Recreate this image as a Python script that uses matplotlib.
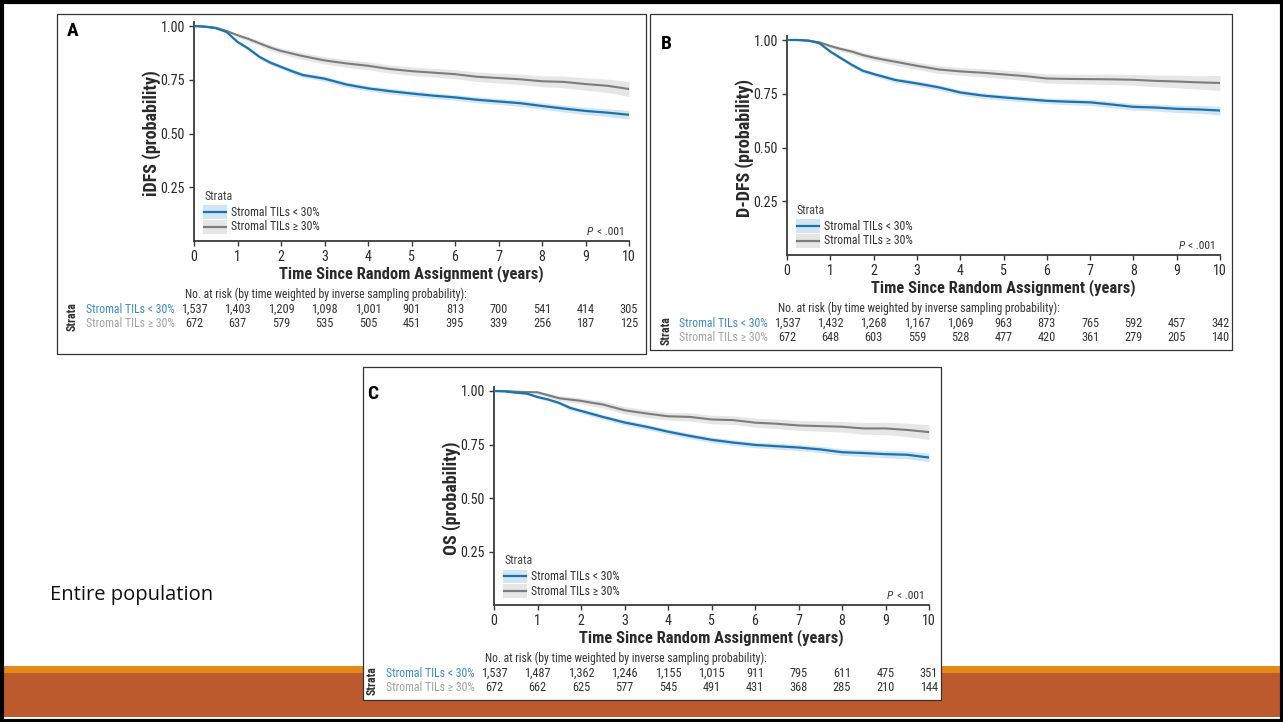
import os
import matplotlib
matplotlib.use('Agg')
import matplotlib.pyplot as plt
from matplotlib import font_manager as fm
from matplotlib.textpath import TextPath
from matplotlib.patches import Rectangle
from matplotlib.lines import Line2D
from matplotlib.transforms import blended_transform_factory

plt.rcParams['font.family'] = ['Liberation Sans', 'DejaVu Sans']

# ---------------- data ----------------
times = [0, 0.25, 0.5, 0.75, 1.0, 1.25, 1.5, 1.75, 2.0, 2.25, 2.5, 3.0, 3.5,
         4.0, 4.5, 5.0, 5.5, 6.0, 6.5, 7.0, 7.5, 8.0, 8.5, 9.0, 9.5, 10.0]

a_low = [1.0, 0.997, 0.99, 0.972, 0.926, 0.895, 0.857, 0.83, 0.81, 0.79, 0.772, 0.755, 0.728,
         0.71, 0.697, 0.686, 0.676, 0.668, 0.657, 0.649, 0.641, 0.628, 0.616, 0.605, 0.597, 0.587]
a_high = [1.0, 0.997, 0.992, 0.977, 0.957, 0.94, 0.92, 0.90, 0.884, 0.872, 0.86, 0.84, 0.826,
          0.815, 0.80, 0.79, 0.783, 0.776, 0.764, 0.758, 0.752, 0.743, 0.74, 0.73, 0.722, 0.707]
b_low = [1.0, 1.0, 0.997, 0.985, 0.946, 0.915, 0.884, 0.857, 0.842, 0.828, 0.814, 0.798, 0.78,
         0.756, 0.742, 0.733, 0.725, 0.717, 0.713, 0.71, 0.70, 0.689, 0.686, 0.68, 0.677, 0.672]
b_high = [1.0, 1.0, 0.997, 0.989, 0.972, 0.958, 0.946, 0.93, 0.918, 0.908, 0.899, 0.88, 0.863,
          0.854, 0.848, 0.84, 0.832, 0.821, 0.819, 0.818, 0.817, 0.815, 0.81, 0.807, 0.803, 0.80]
c_low = [1.0, 0.998, 0.992, 0.988, 0.972, 0.96, 0.944, 0.921, 0.907, 0.893, 0.879, 0.853, 0.833,
         0.81, 0.79, 0.772, 0.759, 0.748, 0.742, 0.736, 0.727, 0.714, 0.71, 0.705, 0.702, 0.689]
c_high = [1.0, 1.0, 0.997, 0.995, 0.994, 0.98, 0.966, 0.96, 0.954, 0.945, 0.937, 0.91, 0.895,
          0.882, 0.879, 0.867, 0.864, 0.852, 0.847, 0.839, 0.836, 0.833, 0.825, 0.825, 0.818, 0.808]

ci_low = [0.0, 0.001, 0.002, 0.004, 0.007, 0.008, 0.009, 0.01, 0.01, 0.011, 0.011, 0.012, 0.012,
          0.012, 0.013, 0.013, 0.013, 0.013, 0.014, 0.014, 0.015, 0.015, 0.016, 0.017, 0.018, 0.02]
ci_high = [0.0, 0.002, 0.003, 0.005, 0.008, 0.01, 0.012, 0.013, 0.014, 0.015, 0.016, 0.017, 0.018,
           0.018, 0.019, 0.02, 0.02, 0.021, 0.022, 0.023, 0.024, 0.025, 0.027, 0.029, 0.031, 0.035]

risk_times = list(range(11))
a_risk_low = [1537, 1403, 1209, 1098, 1001, 901, 813, 700, 541, 414, 305]
a_risk_high = [672, 637, 579, 535, 505, 451, 395, 339, 256, 187, 125]
b_risk_low = [1537, 1432, 1268, 1167, 1069, 963, 873, 765, 592, 457, 342]
b_risk_high = [672, 648, 603, 559, 528, 477, 420, 361, 279, 205, 140]
c_risk_low = [1537, 1487, 1362, 1246, 1155, 1015, 911, 795, 611, 475, 351]
c_risk_high = [672, 662, 625, 577, 545, 491, 431, 368, 285, 210, 144]

yticks = [0.25, 0.50, 0.75, 1.00]
ytick_labels = ['0.25', '0.50', '0.75', '1.00']
strata_labels = ['Stromal TILs < 30%', 'Stromal TILs \u2265 30%']
xlabel = 'Time Since Random Assignment (years)'
risk_title = 'No. at risk (by time weighted by inverse sampling probability):'

# ---------------- fonts: prefer a narrow face ----------------
fams = {}
for f in fm.fontManager.ttflist:
    fn = os.path.basename(f.fname).lower()
    if not ('narrow' in fn or 'condensed' in fn) or '[' in fn:
        continue
    if any(k in fn for k in ['light', 'thin', 'semi', 'medium', 'black', 'extra', 'heavy']):
        continue
    is_b = 'bold' in fn
    is_i = 'italic' in fn or 'oblique' in fn
    key = 'bold' if (is_b and not is_i) else ('ital' if (is_i and not is_b) else
                                              ('reg' if not (is_b or is_i) else None))
    if key is None:
        continue
    if 'roboto' in fn or 'liberation' in fn:
        pri = 0
    elif 'dejavu' in fn:
        pri = 2
    else:
        pri = 1
    d = fams.setdefault(f.name, {'pri': pri})
    d[key] = f.fname

best = None
for name, d in fams.items():
    if 'reg' in d and 'bold' in d and (best is None or d['pri'] < best['pri']):
        best = d


def fp(size=10, bold=False, italic=False):
    if best is not None:
        key = 'bold' if bold else ('ital' if (italic and 'ital' in best) else 'reg')
        return fm.FontProperties(fname=best[key], size=size)
    return fm.FontProperties(family='Liberation Sans', weight='bold' if bold else 'normal',
                             style='italic' if italic else 'normal', size=size)


def fit(text, target_px, bold=False, italic=False):
    w = TextPath((0, 0), text, prop=fp(10, bold, italic)).get_extents().width  # points at 10pt
    return 10 * target_px / (w * 100 / 72)


S_TICK = fit('1.00', 22.5)
S_XLAB = fit(xlabel, 264, True)
S_YLAB = fit('iDFS (probability)', 124, True)
S_RISKT = fit(risk_title, 282)
S_ROW = fit(strata_labels[0], 88)
S_NUM = fit('1,537', 25)
S_LEG = fit(strata_labels[0], 88)
S_STR = fit('Strata', 27)
S_P = fit('< .001', 25)

# ---------------- style ----------------
BLUE = '#1b72ad'
BLUE_BAND = '#d3e4f2'
BLUE_TXT = '#3f8cc4'
GRAY = '#7c7c7c'
GRAY_BAND = '#e6e6e6'
GRAY_TXT = '#a3a3a3'
DARK = '#2a2a2a'
W, H = 1283, 722

fig = plt.figure(figsize=(W / 100, H / 100), dpi=100)
fig.patch.set_facecolor('white')


def fx(px):
    return px / W


def fy(py):
    return 1 - py / H


fig.patches.append(Rectangle((0, fy(673)), 1, fy(666) - fy(673), transform=fig.transFigure,
                             facecolor='#e5891a', edgecolor='none', zorder=0))
fig.patches.append(Rectangle((0, fy(717)), 1, fy(673) - fy(717), transform=fig.transFigure,
                             facecolor='#bd5a2d', edgecolor='none', zorder=0))
fig.patches.append(Rectangle((fx(1.5), fy(720.5)), fx(1280), fy(1.5) - fy(720.5),
                             transform=fig.transFigure, facecolor='none',
                             edgecolor='black', linewidth=3, zorder=10))

boxes = [(57, 14, 646, 354), (650, 14, 1232, 350), (363, 367, 941, 700)]
for (x0, y0, x1, y1) in boxes:
    fig.patches.append(Rectangle((fx(x0), fy(y1)), fx(x1 - x0), fy(y0) - fy(y1),
                                 transform=fig.transFigure, facecolor='white',
                                 edgecolor='#333333', linewidth=0.9, zorder=1))

fig.text(fx(50), fy(595), 'Entire population', fontsize=14.5, family=['Open Sans', 'DejaVu Sans'],
         ha='left', va='center', color='#111111')

panels = [
    dict(letter='A', ylabel='iDFS (probability)', x0=194, x1=629, y0=241, y1=26,
         low=a_low, high=a_high, rl=a_risk_low, rh=a_risk_high, lx=73, ly=31),
    dict(letter='B', ylabel='D-DFS (probability)', x0=787, x1=1220, y0=255, y1=40,
         low=b_low, high=b_high, rl=b_risk_low, rh=b_risk_high, lx=666, ly=44),
    dict(letter='C', ylabel='OS (probability)', x0=494, x1=929, y0=605, y1=391,
         low=c_low, high=c_high, rl=c_risk_low, rh=c_risk_high, lx=373, ly=394),
]

YTOP = 1.02
for p in panels:
    unit = p['y0'] - p['y1']
    top_px = p['y0'] - YTOP * unit
    ax = fig.add_axes([fx(p['x0']), fy(p['y0']), fx(p['x1'] - p['x0']), fy(top_px) - fy(p['y0'])])
    ax.set_zorder(3)
    ax.patch.set_alpha(0)
    ax.set_xlim(0, 10)
    ax.set_ylim(0, YTOP)

    lo_l = [v - c for v, c in zip(p['low'], ci_low)]
    lo_u = [min(1.0, v + c) for v, c in zip(p['low'], ci_low)]
    hi_l = [v - c for v, c in zip(p['high'], ci_high)]
    hi_u = [min(1.0, v + c) for v, c in zip(p['high'], ci_high)]
    ax.fill_between(times, hi_l, hi_u, color=GRAY_BAND, linewidth=0, zorder=1)
    ax.fill_between(times, lo_l, lo_u, color=BLUE_BAND, linewidth=0, zorder=1)
    ax.plot(times, p['high'], color=GRAY, linewidth=1.5, zorder=3)
    ax.plot(times, p['low'], color=BLUE, linewidth=1.6, zorder=4)

    for s in ['top', 'right']:
        ax.spines[s].set_visible(False)
    for s in ['left', 'bottom']:
        ax.spines[s].set_color('#3a3a3a')
        ax.spines[s].set_linewidth(1.3)
    ax.set_xticks(risk_times)
    ax.set_yticks(yticks)
    ax.set_xticklabels([str(t) for t in risk_times], fontproperties=fp(S_TICK))
    ax.set_yticklabels(ytick_labels, fontproperties=fp(S_TICK))
    ax.tick_params(axis='both', length=3.5, width=1, color='#3a3a3a',
                   labelcolor=DARK, pad=3)

    bt = blended_transform_factory(ax.transData, ax.transAxes)
    ax.text(5, -0.148, xlabel, transform=bt, ha='center', va='center',
            fontproperties=fp(S_XLAB, True), color=DARK)
    ax.text(-0.098, 0.49, p['ylabel'], transform=ax.transAxes, rotation=90,
            ha='center', va='center', fontproperties=fp(S_YLAB, True), color=DARK)

    ax.text(0.023, 0.205, 'Strata', transform=ax.transAxes, fontproperties=fp(S_STR),
            color='#444444', ha='left', va='center')
    for yy, col, band, lab in [(0.132, BLUE, BLUE_BAND, strata_labels[0]),
                               (0.064, GRAY, GRAY_BAND, strata_labels[1])]:
        ax.add_patch(Rectangle((0.021, yy - 0.03), 0.055, 0.06, transform=ax.transAxes,
                               facecolor=band, edgecolor='none', zorder=2))
        ax.add_line(Line2D([0.023, 0.074], [yy, yy], transform=ax.transAxes, color=col,
                           linewidth=1.6, zorder=3))
        ax.text(0.085, yy, lab, transform=ax.transAxes, fontproperties=fp(S_LEG),
                color='#333333', ha='left', va='center')
    ax.text(0.99, 0.041, '< .001', transform=ax.transAxes, fontproperties=fp(S_P),
            color='#333333', ha='right', va='center')
    ax.text(0.918, 0.041, 'P', transform=ax.transAxes, fontproperties=fp(S_P, italic=True),
            style='italic', color='#333333', ha='right', va='center')

    ax.text(-0.2, -0.242, risk_title, transform=bt, fontproperties=fp(S_RISKT), color='#333333',
            ha='left', va='center', clip_on=False)
    for yy, vals, lab, col in [(-0.313, p['rl'], strata_labels[0], BLUE_TXT),
                               (-0.378, p['rh'], strata_labels[1], GRAY_TXT)]:
        ax.text(-0.45, yy, lab, transform=bt, fontproperties=fp(S_ROW), color=col,
                ha='right', va='center')
        for t, v in zip(risk_times, vals):
            ax.text(t, yy, f'{v:,}', transform=bt, fontproperties=fp(S_NUM), color='#333333',
                    ha='center', va='center')
    ax.text(-2.8, -0.346, 'Strata', transform=bt, rotation=90, fontproperties=fp(S_STR, True),
            color='#333333', ha='center', va='center')

    fig.text(fx(p['lx']), fy(p['ly']), p['letter'], fontproperties=fp(14, True),
             ha='center', va='center', color='black', zorder=5)

fig.savefig('out.png', dpi=100, facecolor='white')
